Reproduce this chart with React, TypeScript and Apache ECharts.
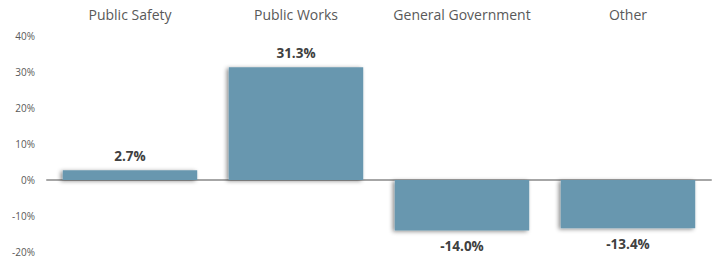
import React, { useEffect, useRef } from "react";
import * as echarts from "echarts";

const categories = ["Public Safety", "Public Works", "General Government", "Other"];
const values = [2.7, 31.3, -14.0, -13.4];
const yTicks = [-20, -10, 0, 10, 20, 30, 40];

export default function App() {
  const ref = useRef<HTMLDivElement>(null);
  useEffect(() => {
    document.body.style.margin = "0";
    if (!ref.current) return;
    const chart = echarts.init(ref.current, undefined, { renderer: "svg" });
    const font = "'Open Sans', sans-serif";
    chart.setOption({
      animation: false,
      grid: { left: 47, right: 9, top: 36, bottom: 8, containLabel: false },
      xAxis: [
        {
          type: "category",
          data: categories,
          position: "top",
          axisLine: { show: false, onZero: false },
          axisTick: { show: false },
          axisLabel: { color: "#595959", fontSize: 14, fontFamily: font, margin: 15, interval: 0 },
        },
        {
          type: "category",
          data: categories,
          position: "bottom",
          axisLine: { show: true, onZero: true, lineStyle: { color: "#a6a6a6", width: 2 } },
          axisTick: { show: false },
          axisLabel: { show: false },
        },
      ],
      yAxis: {
        type: "value",
        min: yTicks[0],
        max: yTicks[yTicks.length - 1],
        interval: 10,
        axisLine: { show: false },
        axisTick: { show: false },
        splitLine: { show: false },
        axisLabel: {
          color: "#595959",
          fontSize: 10,
          fontFamily: font,
          margin: 12,
          formatter: (v: number) => `${v}%`,
        },
      },
      series: [
        {
          type: "bar",
          xAxisIndex: 0,
          barCategoryGap: "19%",
          data: values.map((v) => ({
            value: v,
            label: { position: v < 0 ? "bottom" : "top", distance: v < 0 ? 9 : 7 },
          })),
          itemStyle: {
            color: "#6897af",
            shadowColor: "rgba(0,0,0,0.45)",
            shadowBlur: 4,
            shadowOffsetX: -2,
            shadowOffsetY: 1,
          },
          label: {
            show: true,
            color: "#404040",
            fontSize: 13.5,
            fontWeight: "bold",
            fontFamily: font,
            formatter: (p: any) => `${Number(p.value).toFixed(1)}%`,
          },
        },
      ],
    });
    return () => chart.dispose();
  }, []);
  return <div ref={ref} style={{ width: 720, height: 260 }} />;
}
